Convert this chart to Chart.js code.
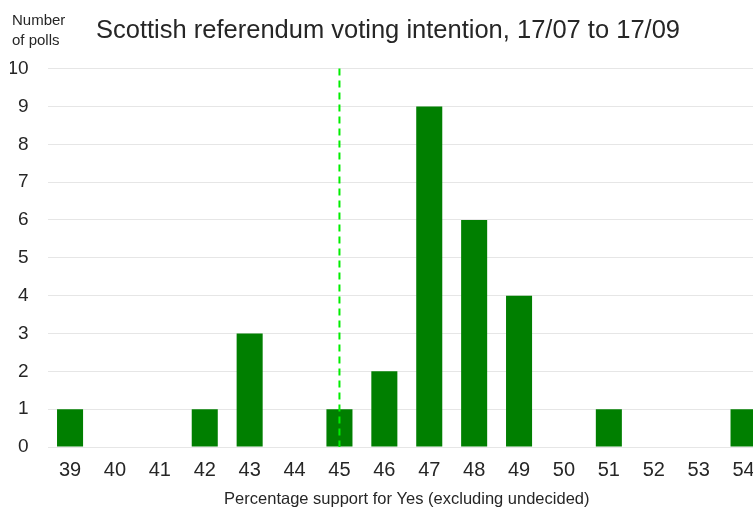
<!DOCTYPE html>
<html>
<head>
<meta charset="utf-8">
<script src="https://cdn.jsdelivr.net/npm/chart.js@4"></script>
<style>
  html, body { margin: 0; padding: 0; background: #fff; overflow: hidden; width: 753px; height: 509px; }
  #wrap { width: 770px; height: 509px; }
</style>
</head>
<body>
<div id="wrap"><canvas id="chart" width="770" height="509"></canvas></div>
<script>
// share of Yes (excluding undecided), one category per point
const yesShare = ['39', '40', '41', '42', '43', '44', '45', '46', '47', '48', '49', '50', '51', '52', '53', '54'];
// number of polls in each category
const pollCount = [1, 0, 0, 1, 3, 0, 1, 2, 9, 6, 4, 0, 1, 0, 0, 1];
const markerAt = '45';
const yTicks = [0, 1, 2, 3, 4, 5, 6, 7, 8, 9, 10];

const fontFamily = 'Arial, "Liberation Sans", sans-serif';

// dashed line at 45 and the "Number of polls" caption
const extras = {
  id: 'extras',
  afterDatasetsDraw(chart) {
    const ctx = chart.ctx;
    const area = chart.chartArea;
    const x = chart.scales.x.getPixelForValue(yesShare.indexOf(markerAt));
    ctx.save();
    ctx.strokeStyle = '#00ee00';
    ctx.lineWidth = 2;
    ctx.setLineDash([7, 5]);
    ctx.beginPath();
    ctx.moveTo(x, area.top);
    ctx.lineTo(x, area.bottom);
    ctx.stroke();
    ctx.restore();
  },
  afterDraw(chart) {
    const ctx = chart.ctx;
    ctx.save();
    ctx.fillStyle = '#262626';
    ctx.font = '15px ' + fontFamily;
    ctx.textBaseline = 'middle';
    ctx.fillText('Number', 12, 21);
    ctx.fillText('of polls', 12, 41);
    ctx.restore();
  }
};

new Chart(document.getElementById('chart'), {
  type: 'bar',
  data: {
    labels: yesShare,
    datasets: [{
      data: pollCount,
      backgroundColor: '#007f00',
      barPercentage: 0.58,
      categoryPercentage: 1
    }]
  },
  options: {
    responsive: false,
    animation: false,
    layout: { padding: { left: 10, right: 4, top: 0, bottom: 0 } },
    plugins: {
      legend: { display: false },
      tooltip: { enabled: false },
      title: {
        display: true,
        text: 'Scottish referendum voting intention, 17/07 to 17/09',
        color: '#262626',
        font: { family: fontFamily, size: 25.5, weight: 'normal' },
        padding: { top: 16, bottom: 22 }
      }
    },
    scales: {
      x: {
        afterFit(axis) { axis.height = 62; },
        grid: { display: false, drawTicks: false },
        border: { display: false },
        ticks: {
          color: '#262626',
          font: { family: fontFamily, size: 20 },
          padding: 11,
          maxRotation: 0,
          autoSkip: false
        },
        title: {
          display: true,
          text: 'Percentage support for Yes (excluding undecided)',
          color: '#262626',
          font: { family: fontFamily, size: 16.5 },
          padding: { top: 0, bottom: 0 }
        }
      },
      y: {
        min: 0,
        max: 10,
        afterFit(axis) { axis.width = 37.6; },
        afterBuildTicks(axis) { axis.ticks = yTicks.map(v => ({ value: v })); },
        grid: { color: '#e6e6e6', lineWidth: 1, drawTicks: false },
        border: { display: false },
        ticks: {
          color: '#262626',
          font: { family: fontFamily, size: 19 },
          padding: 19
        }
      }
    }
  },
  plugins: [extras]
});
</script>
</body>
</html>
